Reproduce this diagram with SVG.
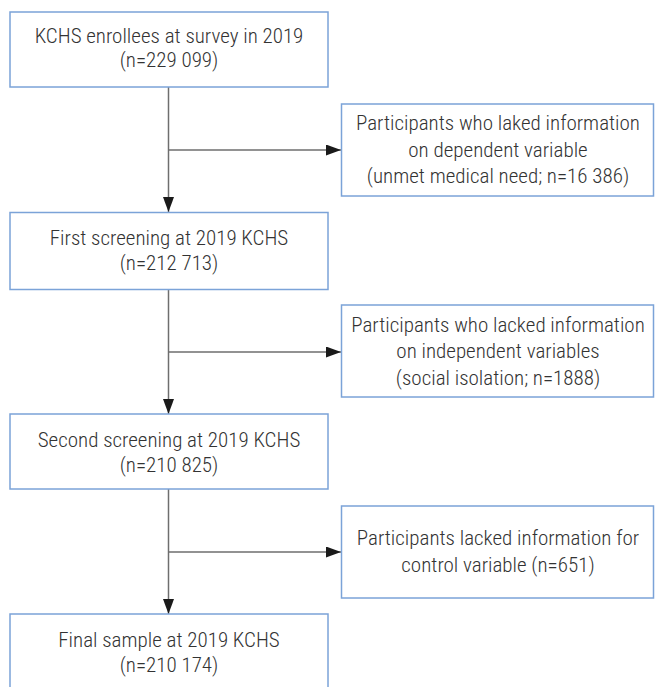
<svg xmlns="http://www.w3.org/2000/svg" width="655" height="687" viewBox="0 0 655 687">
<defs>
<marker id="ah" viewBox="0 0 15 11" refX="15" refY="5.5" markerWidth="15" markerHeight="11" markerUnits="userSpaceOnUse" orient="auto">
<path d="M0,0 L15,5.5 L0,11 Z" fill="#1a1a1a"/>
</marker>
</defs>
<style>
.box{fill:#ffffff;stroke:#7ba3d8;stroke-width:1.5}
.t{font-family:"Liberation Sans Narrow","Roboto Condensed","Roboto",sans-serif;font-weight:300;font-size:21px;fill:#333333;text-anchor:middle}
.c{stroke:#6e6e6e;stroke-width:1.5;fill:none}
</style>
<rect width="655" height="687" fill="#ffffff"/>
<g id="connectors">
<path class="c" d="M168.5,87 V212" marker-end="url(#ah)"/>
<path class="c" d="M168.5,150 H341" marker-end="url(#ah)"/>
<path class="c" d="M168.5,290 V414" marker-end="url(#ah)"/>
<path class="c" d="M168.5,352 H341" marker-end="url(#ah)"/>
<path class="c" d="M168.5,489 V614" marker-end="url(#ah)"/>
<path class="c" d="M168.5,552 H341" marker-end="url(#ah)"/>
</g>
<g id="n1">
<rect class="box" x="10" y="12" width="318" height="75"/>
<text class="t" x="169" y="43">KCHS enrollees at survey in 2019</text>
<text class="t" x="169" y="67">(n=229 099)</text>
</g>
<g id="r1">
<rect class="box" x="341.5" y="104" width="312" height="92"/>
<text class="t" x="498" y="130">Participants who laked information</text>
<text class="t" x="498" y="157">on dependent variable</text>
<text class="t" x="498" y="183">(unmet medical need; n=16 386)</text>
</g>
<g id="n2">
<rect class="box" x="10" y="212.5" width="318" height="77"/>
<text class="t" x="169" y="245">First screening at 2019 KCHS</text>
<text class="t" x="169" y="270">(n=212 713)</text>
</g>
<g id="r2">
<rect class="box" x="341.5" y="305" width="312" height="92"/>
<text class="t" x="498" y="332">Participants who lacked information</text>
<text class="t" x="498" y="358">on independent variables</text>
<text class="t" x="498" y="385">(social isolation; n=1888)</text>
</g>
<g id="n3">
<rect class="box" x="10" y="414" width="318" height="75"/>
<text class="t" x="169" y="447">Second screening at 2019 KCHS</text>
<text class="t" x="169" y="472">(n=210 825)</text>
</g>
<g id="r3">
<rect class="box" x="341.5" y="506" width="312" height="92"/>
<text class="t" x="498" y="545">Participants lacked information for</text>
<text class="t" x="498" y="572">control variable (n=651)</text>
</g>
<g id="n4">
<rect class="box" x="10" y="614" width="318" height="80"/>
<text class="t" x="169" y="647">Final sample at 2019 KCHS</text>
<text class="t" x="169" y="672">(n=210 174)</text>
</g>
</svg>
